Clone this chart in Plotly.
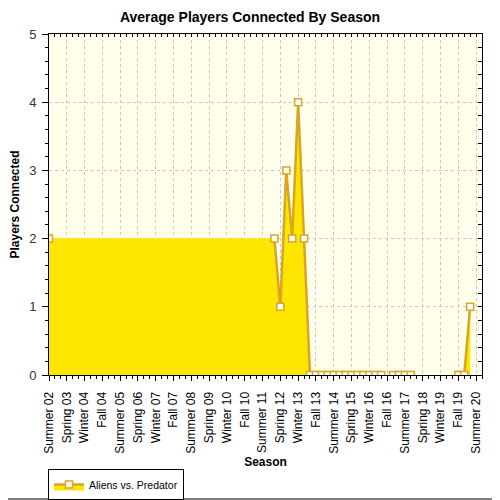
import plotly.graph_objects as go

# one entry per season, Summer 02 .. Fall 20
seasons = [
    "Summer 02", "Fall 02",
    "Winter 03", "Spring 03", "Summer 03", "Fall 03",
    "Winter 04", "Spring 04", "Summer 04", "Fall 04",
    "Winter 05", "Spring 05", "Summer 05", "Fall 05",
    "Winter 06", "Spring 06", "Summer 06", "Fall 06",
    "Winter 07", "Spring 07", "Summer 07", "Fall 07",
    "Winter 08", "Spring 08", "Summer 08", "Fall 08",
    "Winter 09", "Spring 09", "Summer 09", "Fall 09",
    "Winter 10", "Spring 10", "Summer 10", "Fall 10",
    "Winter 11", "Spring 11", "Summer 11", "Fall 11",
    "Winter 12", "Spring 12", "Summer 12", "Fall 12",
    "Winter 13", "Spring 13", "Summer 13", "Fall 13",
    "Winter 14", "Spring 14", "Summer 14", "Fall 14",
    "Winter 15", "Spring 15", "Summer 15", "Fall 15",
    "Winter 16", "Spring 16", "Summer 16", "Fall 16",
    "Winter 17", "Spring 17", "Summer 17", "Fall 17",
    "Winter 18", "Spring 18", "Summer 18", "Fall 18",
    "Winter 19", "Spring 19", "Summer 19", "Fall 19",
    "Winter 20", "Spring 20", "Summer 20", "Fall 20",
]

# average players per season (None = no data that season)
players = [
    2, None,
    None, None, None, None,
    None, None, None, None,
    None, None, None, None,
    None, None, None, None,
    None, None, None, None,
    None, None, None, None,
    None, None, None, None,
    None, None, None, None,
    None, None, None, None,
    2, 1, 3, 2,
    4, 2, 0, 0,
    0, 0, 0, 0,
    0, 0, 0, 0,
    0, 0, 0, None,
    0, 0, 0, 0,
    None, None, None, None,
    None, None, None, 0,
    0, 1,
]

series_name = "Aliens vs. Predator"

x_idx = list(range(len(seasons)))
fill_x = [i for i, v in zip(x_idx, players) if v is not None]
fill_y = [v for v in players if v is not None]

LINE = "#DAA520"
FILL = "#FFE600"
FONT = "Liberation Sans, Arial, sans-serif"

# the page puts the figure 8px in from the top-left corner
W = H = 492
L, R, T, B = 41, 18, 26, 125
PW, PH = W - L - R, H - T - B

fig = go.Figure()

# area underneath, bridged across the missing seasons
fig.add_trace(go.Scatter(
    x=fill_x, y=fill_y, mode="none", fill="tozeroy",
    fillcolor=FILL, showlegend=False, hoverinfo="skip",
))

fig.add_trace(go.Scatter(
    x=x_idx, y=players, name=series_name,
    mode="lines+markers", connectgaps=False,
    fill="tozeroy", fillcolor=FILL,
    line=dict(color=LINE, width=2.5),
    marker=dict(symbol="square", size=7, color="white",
                line=dict(color=LINE, width=1.5)),
    customdata=seasons,
    hovertemplate="%{customdata}: %{y}<extra></extra>",
))

# empty trace so the top/right tick axes get drawn
fig.add_trace(go.Scatter(x=[None], y=[None], xaxis="x2", yaxis="y2",
                         showlegend=False, hoverinfo="skip"))

# outer frame, in paper units
fx0, fx1 = (-8 - L) / PW, (W - 1 - L) / PW
fy0, fy1 = -(B - 1) / PH, 1 + (T + 8) / PH
frame = dict(color="black", width=1)

fig.update_layout(
    width=W, height=H,
    margin=dict(l=L, r=R, t=T, b=B),
    paper_bgcolor="white",
    plot_bgcolor="#FFFFEC",
    font=dict(family=FONT, size=12, color="black"),
    title=dict(text="Average Players Connected By Season",
               x=242 / W, xref="container", xanchor="center",
               y=1 - 9 / H, yanchor="middle",
               font=dict(size=14, weight="bold", color="black")),
    legend=dict(orientation="h", xref="container", yref="container",
                x=40 / W, xanchor="left", y=1 - 461 / H, yanchor="top",
                bgcolor="white", bordercolor="black", borderwidth=1,
                itemwidth=30, font=dict(size=10.5)),
    shapes=[
        dict(type="line", xref="paper", yref="paper",
             x0=fx1, x1=fx1, y0=fy0, y1=fy1, line=frame),
        dict(type="line", xref="paper", yref="paper",
             x0=fx0, x1=fx1, y0=fy0, y1=fy0, line=frame),
    ],
    xaxis2=dict(overlaying="x", side="top", anchor="y", range=[0, 73],
                tickmode="linear", tick0=0, dtick=1, ticks="inside",
                ticklen=3, tickcolor="black", showticklabels=False,
                showgrid=False, zeroline=False, showline=False),
    yaxis2=dict(overlaying="y", side="right", anchor="x", range=[0, 5],
                tickmode="linear", tick0=0, dtick=0.2, ticks="inside",
                ticklen=4, tickcolor="black", showticklabels=False,
                showgrid=False, zeroline=False, showline=False),
)

fig.layout.xaxis.update(
    range=[0, 73], automargin=False,
    tickmode="array", tickvals=x_idx[::3], ticktext=seasons[::3],
    tickangle=-90, tickfont=dict(size=12), ticklabelstandoff=6,
    ticks="outside", ticklen=5, tickcolor="black",
    minor=dict(tickmode="linear", tick0=0, dtick=1, ticklen=3,
               tickcolor="black", showgrid=False),
    showgrid=True, gridcolor="#C8C8C8", griddash="dot",
    showline=True, linecolor="black", mirror=True, zeroline=False,
    title=dict(text="Season", font=dict(size=12, weight="bold"), standoff=16),
)
fig.layout.yaxis.update(
    range=[0, 5], dtick=1, automargin=False,
    ticks="outside", ticklen=6, tickcolor="black",
    tickfont=dict(size=13, color="#333333"), ticklabelstandoff=3,
    minor=dict(dtick=0.2, ticklen=3, tickcolor="black", showgrid=False),
    showgrid=True, gridcolor="#C8C8C8", griddash="dot",
    showline=True, linecolor="black", mirror=True, zeroline=False,
    title=dict(text="Players Connected", font=dict(size=12, weight="bold"), standoff=8),
)

fig.write_html("out.html")
